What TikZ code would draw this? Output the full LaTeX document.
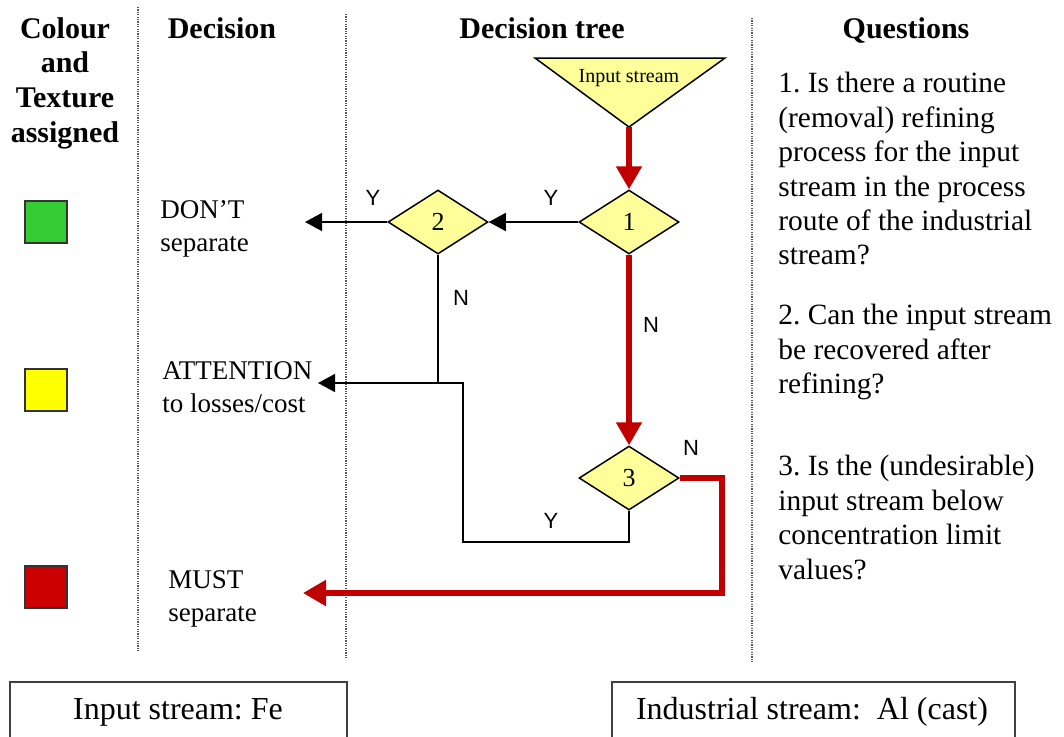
\documentclass[tikz,border=0pt]{standalone}
\usepackage{fontspec}
\setmainfont{Liberation Serif}
\newfontfamily\ynfont{Liberation Sans}
\usetikzlibrary{shapes.geometric,arrows.meta}
\definecolor{paleyellow}{HTML}{FFFF99}
\definecolor{flowred}{HTML}{C00000}
\definecolor{boxgreen}{HTML}{33CC33}
\definecolor{boxyellow}{HTML}{FFFF00}
\definecolor{boxred}{HTML}{CC0000}
\frenchspacing

\begin{document}
\begin{tikzpicture}[
  colhead/.style={anchor=north,align=center,inner sep=0pt,
    font=\fontsize{15pt}{17.3pt}\selectfont\bfseries},
  decision/.style={anchor=north west,align=left,inner sep=0pt,
    font=\fontsize{13.5pt}{16.5pt}\selectfont},
  question/.style={anchor=north west,align=left,inner sep=0pt,
    font=\fontsize{14.7pt}{17.2pt}\selectfont},
  choice/.style={diamond,draw,line width=0.75pt,fill=paleyellow,aspect=1.56,
    minimum width=50pt,minimum height=32pt,inner sep=0pt,
    font=\fontsize{13pt}{15pt}\selectfont},
  swatch/.style={draw=black!80,line width=0.6pt,minimum size=21pt,inner sep=0pt},
  yn/.style={inner sep=0pt,font=\ynfont\fontsize{11pt}{13pt}\selectfont},
  sep/.style={line width=0.9pt,black!65,dash pattern=on 0.6pt off 0.6pt},
  blk/.style={line width=0.8pt,-{Triangle[length=8.5pt,width=9pt]}},
  redflow/.style={line width=2.6pt,flowred,-{Triangle[length=11.5pt,width=12.5pt]}},
]
\pgfsetxvec{\pgfpoint{0.5pt}{0}}
\pgfsetyvec{\pgfpoint{0}{-0.5pt}}
  \useasboundingbox (0,0) rectangle (1064,736);
  \clip (0,0) rectangle (1064,736);

  % column separators
  \draw[sep] (138,7) -- (138,652);
  \draw[sep] (346,14) -- (346,658);
  \draw[sep] (752,18) -- (752,662);

  % headings
  \node[colhead] (hcolour) at (65,17) {Colour\\and\\Texture\\assigned};
  \node[colhead] (hdecision) at (222,17) {Decision};
  \node[colhead] (htree) at (542,17) {Decision tree};
  \node[colhead] (hquest) at (906,17) {Questions};

  % colour swatches
  \node[swatch,fill=boxgreen] (sgreen) at (46,222) {};
  \node[swatch,fill=boxyellow] (syellow) at (46,390) {};
  \node[swatch,fill=boxred] (sred) at (46,587) {};

  % decisions
  \node[decision] (dont) at (160,200) {DON'T\\separate};
  \node[decision] (attn) at (162,361) {ATTENTION\\to losses/cost};
  \node[decision] (must) at (168,570) {MUST\\separate};

  % decision tree
  \draw[line width=0.75pt,fill=paleyellow] (535,58) -- (725,58) -- (629,127) -- cycle;
  \coordinate (apex) at (629,127);
  \node[inner sep=0pt,font=\fontsize{10pt}{12pt}\selectfont] (input) at (629,78) {Input stream};
  \node[choice] (q1) at (629,222) {1};
  \node[choice] (q2) at (438,222) {2};
  \node[choice] (q3) at (629,478) {3};

  \coordinate (toDont) at (305,222);
  \coordinate (toAttn) at (318,383);
  \coordinate (toMust) at (303,593);
  \coordinate (ybend) at (463,542);
  \coordinate (nbend) at (722,593);

  \draw[redflow] (apex) -- (q1.north);
  \draw[redflow] (q1.south) -- (q3.north);
  \draw[blk] (q1.west) -- (q2.east);
  \draw[blk] (q2.west) -- (toDont);
  \draw[blk] (q2.south) |- (toAttn);
  \draw[line width=0.8pt] (q3.south) |- (ybend) |- (q2.south |- toAttn);
  \draw[redflow] (q3.east) -| (nbend) -- (toMust);

  \node[yn] (y1) at (551,198) {Y};
  \node[yn] (y2) at (373,198) {Y};
  \node[yn] (n2) at (461,298) {N};
  \node[yn] (n1) at (651,325) {N};
  \node[yn] (n3) at (691,448) {N};
  \node[yn] (y3) at (551,521) {Y};

  % questions
  \node[question] (qa) at (778,72) {1. Is there a routine\\(removal) refining\\process for the input\\stream in the process\\route of the industrial\\stream?};
  \node[question] (qb) at (778,304) {2. Can the input stream\\be recovered after\\refining?};
  \node[question] (qc) at (778,455) {3. Is the (undesirable)\\input stream below\\concentration limit\\values?};

  % stream boxes
  \draw[line width=0.8pt,black!75] (10,682) rectangle (347,760);
  \draw[line width=0.8pt,black!75] (612,682) rectangle (1015,760);
  \node[inner sep=0pt,font=\fontsize{16pt}{19pt}\selectfont] (instream) at (178,712) {Input stream: Fe};
  \node[inner sep=0pt,font=\fontsize{16pt}{19pt}\selectfont] (indstream) at (812,712) {Industrial stream:\ \ Al (cast)};
\end{tikzpicture}
\end{document}
